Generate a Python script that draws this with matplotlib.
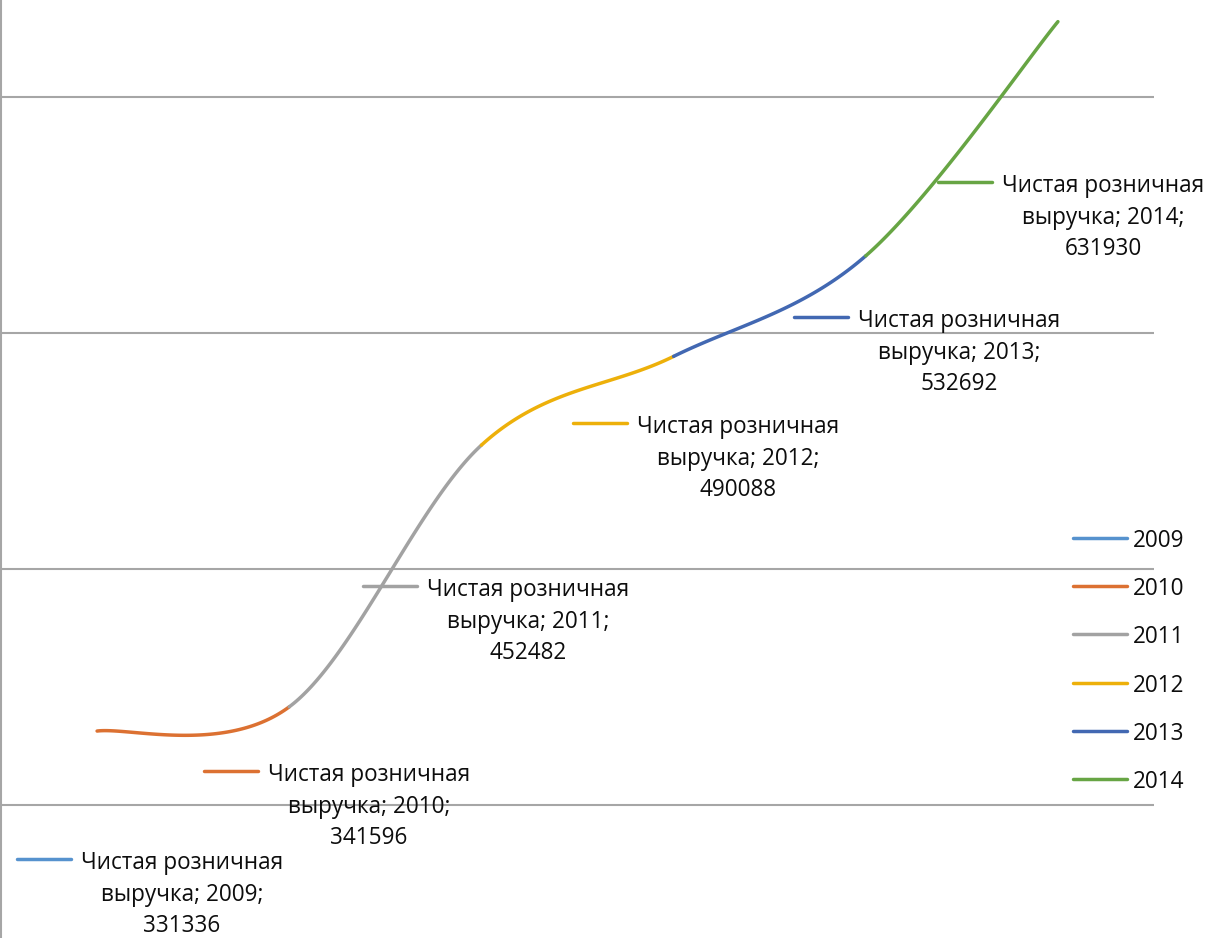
import numpy as np
import matplotlib
matplotlib.use("Agg")
import matplotlib.pyplot as plt
from matplotlib.lines import Line2D

# --- data -------------------------------------------------------------
years = ["2009", "2010", "2011", "2012", "2013", "2014"]
revenue = [331336, 341596, 452482, 490088, 532692, 631930]
series_name = "Чистая розничная выручка"
colors = ["#5692CE", "#DC7132", "#A2A2A2", "#EDB00A", "#4268B2", "#67A544"]
grid_values = [300000, 400000, 500000, 600000]

# --- layout (pixels) --------------------------------------------------
W, H = 1208, 938
y_top, y_bottom = 641102, 243644
label_keys = [(17, 859), (204, 771), (363, 586), (573, 423), (794, 317), (938, 182)]
key_len = 54
legend_x, legend_y0, legend_dy = 1073, 538, 48.2

FONT = ["Open Sans", "DejaVu Sans"]
plt.rcParams["font.family"] = FONT

fig = plt.figure(figsize=(W / 100, H / 100), dpi=100)
ax = fig.add_axes([1 / W, 0, 1153 / W, 1])
ax.set_xlim(-0.5, len(years) - 0.5)
ax.set_ylim(y_bottom, y_top)
for s in ["top", "right", "bottom"]:
    ax.spines[s].set_visible(False)
ax.spines["left"].set_color("#A6A6A6")
ax.spines["left"].set_linewidth(1.5)
ax.set_xticks([])
ax.set_yticks([])
for g in grid_values:
    ax.axhline(g, color="#A6A6A6", lw=1.5, zorder=1)


def fig_xy(px, py):
    return px / W, 1 - py / H


# smoothed line, one Bezier segment per pair of years
x = np.arange(len(years), dtype=float)
y = np.array(revenue, dtype=float)
P = np.column_stack([x, y])
t = np.linspace(0, 1, 80)[:, None]
for i in range(len(P) - 1):
    p0 = P[i - 1] if i > 0 else P[i]
    p1, p2 = P[i], P[i + 1]
    p3 = P[i + 2] if i + 2 < len(P) else P[i + 1]
    c1 = p1 + (p2 - p0) / 6
    c2 = p2 - (p3 - p1) / 6
    curve = ((1 - t) ** 3) * p1 + 3 * ((1 - t) ** 2) * t * c1 + 3 * (1 - t) * t ** 2 * c2 + t ** 3 * p2
    ax.plot(curve[:, 0], curve[:, 1], color=colors[i + 1], lw=2.5,
            solid_capstyle="round", zorder=3)

# font size so that the first label line is about 202 px wide
renderer = fig.canvas.get_renderer()
probe = fig.text(0, 0, "Чистая розничная", fontsize=16)
wpx = probe.get_window_extent(renderer).width
fs = 16 * 202 / wpx
probe.remove()

# data labels with legend keys
first, second = series_name.rsplit(" ", 1)
for i, (kx, ky) in enumerate(label_keys):
    fig.add_artist(Line2D([kx / W, (kx + key_len) / W], [1 - ky / H] * 2,
                          color=colors[i], lw=2.5, solid_capstyle="round"))
    cx = kx + key_len + 11 + 100
    lines = [first, f"{second}; {years[i]};", f"{revenue[i]}"]
    for txt, off in zip(lines, [10, 42, 73]):
        fig.text(*fig_xy(cx, ky + off), txt, fontsize=fs, ha="center",
                 va="baseline", color="#0d0d0d")

# legend
for i, yr in enumerate(years):
    ly = legend_y0 + i * legend_dy
    fig.add_artist(Line2D([legend_x / W, (legend_x + 54) / W], [1 - ly / H] * 2,
                          color=colors[i], lw=2.5, solid_capstyle="round"))
    fig.text(*fig_xy(legend_x + 60, ly + 9), yr, fontsize=fs, ha="left",
             va="baseline", color="#0d0d0d")

fig.savefig("out.png", dpi=100)
